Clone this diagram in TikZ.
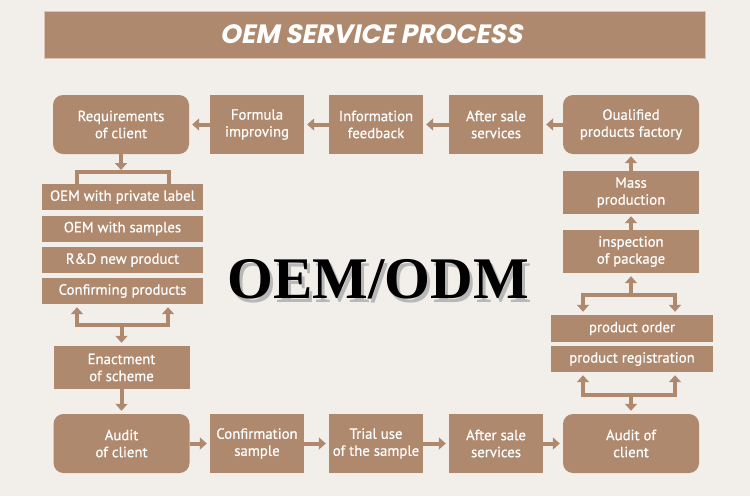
\documentclass[tikz,border=0pt]{standalone}
\usepackage{fontspec}
\usetikzlibrary{arrows.meta}
\setmainfont{PT Sans}[FakeBold=0.5]
\newfontfamily\headfont{Poppins}[FakeSlant=0.2]
\newfontfamily\bigfont{Liberation Serif}
\definecolor{bg}{RGB}{242,238,234}
\definecolor{tan}{RGB}{175,137,110}
\definecolor{tanedge}{RGB}{222,196,178}
\newcommand\shade[2]{\rlap{\hspace{#1pt}\raisebox{-#2pt}{\textcolor{black!28}{OEM/ODM}}}}
\begin{document}
\begin{tikzpicture}[x=1pt, y=-1pt,
		box/.style={fill=tan, text=white, align=center, inner sep=0, font=\fontsize{14.8}{17}\selectfont},
		rbox/.style={box, rounded corners=10pt},
		wide/.style={minimum width=136pt, minimum height=59pt},
		mid/.style={minimum width=94pt, minimum height=59pt},
		tall/.style={minimum width=136pt, minimum height=43pt},
		strip/.style={minimum width=161pt, minimum height=26pt},
		arr/.style={draw=tan, line width=4pt, -{Triangle[width=12pt,length=7pt]}},
		bar/.style={draw=tan, line width=4pt, line cap=rect}]
		\fill[bg] (0,0) rectangle (750,496);
		\useasboundingbox (0,0) rectangle (750,496);
		\node[fill=tan, draw=tanedge, line width=.8pt, minimum width=661pt, minimum height=47pt, inner sep=0] (head) at (374.5,34.5) {};
		\node[text=white, font=\headfont\bfseries\fontsize{26.5}{26.5}\selectfont] (headtxt) at (371,34.5) {OEM SERVICE PROCESS};
		% top row
		\node[rbox, wide] (req) at (121,124.5) {Requirements\\of client};
		\node[box, mid] (form) at (257,124.5) {Formula\\improving};
		\node[box, mid] (info) at (376,124.5) {Information\\feedback};
		\node[box, mid] (aftt) at (496,124.5) {After sale\\services};
		\node[rbox, wide] (qual) at (631,124.5) {Oualified\\products factory};
		% left column
		\node[box, strip] (pl) at (122.5,197) {OEM with private label};
		\node[box, strip] (ws) at (122.5,228.5) {OEM with samples};
		\node[box, strip] (rd) at (122.5,260) {R\&D new product};
		\node[box, strip] (cp) at (122.5,291) {Confirming products};
		\node[box, tall] (enact) at (121.5,367.5) {Enactment\\of scheme};
		% right column
		\node[box, tall] (mass) at (631,192.5) {Mass\\production};
		\node[box, tall] (insp) at (631,251.5) {inspection\\of package};
		\node[box, minimum width=162pt, minimum height=27pt] (order) at (632,328.5) {product order};
		\node[box, minimum width=162pt, minimum height=26pt] (reg) at (632,359) {product registration};
		% bottom row
		\node[rbox, wide] (auda) at (121.5,443.5) {Audit\\of client};
		\node[box, mid] (conf) at (257,443.5) {Confirmation\\sample};
		\node[box, mid] (trial) at (376,443.5) {Trial use\\of the sample};
		\node[box, mid] (aftb) at (496,443.5) {After sale\\services};
		\node[rbox, wide] (audb) at (631,443.5) {Audit of\\client};
		% centre mark, shadow in the same node
		\node[font=\bigfont\fontsize{59}{59}\selectfont\bfseries, text=black] (odm) at (378,281)
			{\shade{3}{4}OEM/ODM};
		% brackets
		\coordinate (b1l) at (77,172); \coordinate (b1r) at (169,172);
		\coordinate (b2l) at (77,325); \coordinate (b2r) at (168,325);
		\coordinate (b3l) at (583,295); \coordinate (b3r) at (675,295);
		\coordinate (b4l) at (583,395); \coordinate (b4r) at (675,395);
		\draw[bar] (b1l |- pl.north) -- (b1l) -- (b1r) -- (b1r |- pl.north);
		\draw[bar] (b2l) -- (b2r);
		\draw[bar] (b3l) -- (b3r);
		\draw[bar] (b4l) -- (b4r);
		% connectors
		\draw[arr, shorten >=3pt] (qual) -- (aftt);
		\draw[arr, shorten >=3pt] (aftt) -- (info);
		\draw[arr, shorten >=3pt] (info) -- (form);
		\draw[arr, shorten >=3pt] (form) -- (req);
		\draw[arr, shorten >=2pt] (req) -- (req |- b1l);
		\draw[arr, shorten >=3pt] (b2l) -- (b2l |- cp.south);
		\draw[arr, shorten >=3pt] (b2r) -- (b2r |- cp.south);
		\draw[arr, shorten >=3pt] (enact.north |- b2l) -- (enact);
		\draw[arr, shorten >=3pt] (enact) -- (auda);
		\draw[arr, shorten >=3pt] (auda) -- (conf);
		\draw[arr, shorten >=3pt] (conf) -- (trial);
		\draw[arr, shorten >=3pt] (trial) -- (aftb);
		\draw[arr, shorten >=3pt] (aftb) -- (audb);
		\draw[arr, shorten >=3pt] (b4l) -- (b4l |- reg.south);
		\draw[arr, shorten >=3pt] (b4r) -- (b4r |- reg.south);
		\draw[arr, shorten >=3pt] (audb.north |- b4l) -- (audb);
		\draw[arr, shorten >=3pt] (b3l) -- (b3l |- order.north);
		\draw[arr, shorten >=3pt] (b3r) -- (b3r |- order.north);
		\draw[arr, shorten >=3pt] (insp.south |- b3l) -- (insp);
		\draw[arr, shorten >=2pt] (insp) -- (mass);
		\draw[arr, shorten >=2pt] (mass) -- (qual);
\end{tikzpicture}
\end{document}
